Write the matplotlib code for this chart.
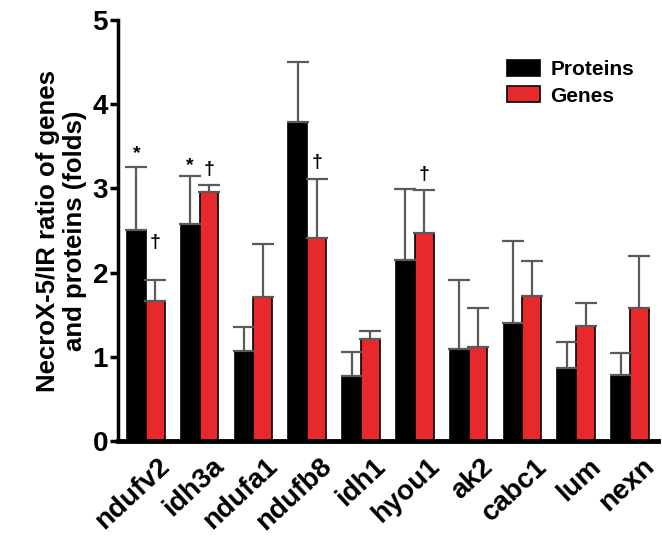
import numpy as np
import matplotlib
matplotlib.use('Agg')
import matplotlib.pyplot as plt

plt.rcParams['font.family'] = ['Liberation Sans', 'DejaVu Sans']
plt.rcParams['font.weight'] = 'bold'

genes = ['ndufv2', 'idh3a', 'ndufa1', 'ndufb8', 'idh1', 'hyou1', 'ak2', 'cabc1', 'lum', 'nexn']
proteins = [2.51, 2.58, 1.07, 3.79, 0.77, 2.15, 1.09, 1.40, 0.87, 0.78]
proteins_err = [0.74, 0.57, 0.28, 0.71, 0.29, 0.84, 0.82, 0.98, 0.30, 0.27]
gene_vals = [1.66, 2.96, 1.71, 2.41, 1.21, 2.47, 1.12, 1.72, 1.37, 1.58]
gene_err = [0.25, 0.08, 0.63, 0.70, 0.10, 0.51, 0.46, 0.42, 0.27, 0.62]

# significance marks: (group, series 0=proteins 1=genes, symbol, height)
marks = [(0, 0, '*', 3.31), (1, 0, '*', 3.17), (0, 1, '†', 2.26),
         (1, 1, '†', 3.12), (3, 1, '†', 3.21), (5, 1, '†', 3.07)]

red = '#e8292b'
w = 0.35
x = np.arange(len(genes))

fig = plt.figure(figsize=(6.62, 5.45), dpi=100)
ax = fig.add_axes([0.178, 0.191, 0.816, 0.772])

ekw = dict(ecolor='#5a5a5a', elinewidth=1.6, capsize=8, capthick=1.6)
ax.bar(x - w / 2, proteins, w, color='black', edgecolor='black', linewidth=1.2,
       yerr=[np.zeros(len(x)), proteins_err], error_kw=ekw, label='Proteins', zorder=2)
ax.bar(x + w / 2, gene_vals, w, color=red, edgecolor='black', linewidth=1.2,
       yerr=[np.zeros(len(x)), gene_err], error_kw=ekw, label='Genes', zorder=2)

for g, s, sym, h in marks:
    xx = x[g] - w / 2 if s == 0 else x[g] + w / 2
    ax.text(xx, h, sym, ha='center', va='bottom', fontsize=14, fontweight='bold')

ax.set_xlim(-0.52, 9.52)
ax.set_ylim(0, 5)
ax.set_yticks([0, 1, 2, 3, 4, 5])
ax.set_yticklabels(['0', '1', '2', '3', '4', '5'], fontsize=20, fontweight='bold')
# labels sit a bit right of the group centre, like the original
ax.set_xticks(x + 0.22)
ax.set_xticklabels(genes, rotation=43, ha='right', rotation_mode='anchor',
                   fontsize=20, fontweight='bold')
ax.tick_params(axis='x', length=0, pad=9)
ax.tick_params(axis='y', length=6, width=2.5, pad=1)
ax.set_ylabel('NecroX-5/IR ratio of genes\nand proteins (folds)', fontsize=18.5,
              fontweight='bold', labelpad=4, linespacing=1.15)

for sp in ['top', 'right']:
    ax.spines[sp].set_visible(False)
ax.spines['left'].set_linewidth(2.5)
ax.spines['bottom'].set_linewidth(3.5)

ax.legend(loc='upper left', bbox_to_anchor=(0.685, 0.95), frameon=False,
          handlelength=1.6, handleheight=0.8, labelspacing=0.35, handletextpad=0.5,
          prop={'weight': 'bold', 'size': 15})

fig.savefig('out.png', dpi=100)
